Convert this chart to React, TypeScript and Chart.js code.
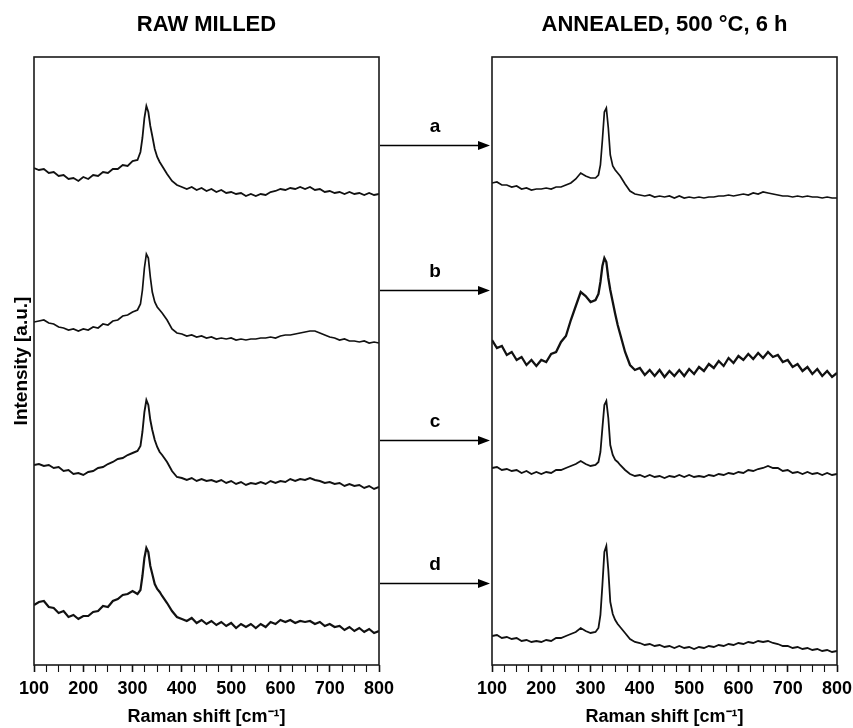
import React, { useEffect, useRef } from 'react';
import { Chart, registerables } from 'chart.js';

Chart.register(...registerables);

const FONT = "'Liberation Sans', Arial, Helvetica, sans-serif";

// Raman shift sample positions (cm^-1)
const ramanShift = [
  100, 110, 120, 130, 140, 150, 160, 170, 180, 190, 200, 210, 220, 230, 240, 250, 260, 270, 280, 290, 300, 310,
  316, 320, 324, 328, 332, 336, 340, 345, 350, 355, 360,
  370, 380, 390, 400, 410, 420, 430, 440, 450, 460, 470, 480, 490, 500, 510, 520, 530, 540, 550, 560, 570, 580, 590,
  600, 610, 620, 630, 640, 650, 660, 670, 680, 690, 700, 710, 720, 730, 740, 750, 760, 770, 780, 790, 800,
];

// RAW MILLED spectra (offset intensity, a.u.)
const rawA = [
  497, 495, 496, 492, 493, 489, 490, 486, 487, 484, 488, 486, 490, 489, 493, 492, 496, 496, 500, 499, 504, 505,
  513, 527, 547, 559, 553, 539, 529, 516, 508, 503, 499,
  491, 484, 480, 478, 476, 478, 475, 477, 474, 476, 473, 475, 472, 473, 471, 472, 469, 471, 469, 471, 470, 473, 474,
  476, 475, 477, 476, 478, 476, 478, 475, 476, 473, 474, 472, 473, 471, 473, 471, 472, 470, 472, 470, 471,
];
const rawB = [
  343, 344, 345, 342, 341, 338, 337, 335, 336, 334, 336, 335, 338, 337, 341, 340, 344, 345, 349, 350, 353, 355,
  361, 375, 397, 411, 407, 388, 373, 363, 358, 355, 352,
  345, 336, 332, 331, 329, 330, 328, 329, 327, 328, 326, 327, 326, 327, 325, 326, 325, 326, 326, 327, 327, 328, 327,
  329, 330, 330, 331, 332, 333, 334, 334, 332, 330, 328, 327, 325, 326, 324, 324, 323, 324, 322, 323, 322,
];
const rawC = [
  200, 201, 199, 200, 197, 198, 194, 195, 191, 192, 190, 193, 194, 197, 198, 201, 203, 206, 207, 210, 212, 214,
  219, 233, 253, 265, 260, 245, 235, 225, 218, 213, 210,
  203, 194, 188, 187, 185, 187, 184, 186, 184, 185, 183, 185, 182, 184, 181, 183, 180, 182, 181, 183, 181, 184, 182,
  184, 183, 186, 184, 186, 185, 187, 185, 184, 182, 183, 181, 182, 179, 181, 179, 180, 177, 179, 176, 178,
];
const rawD = [
  60, 63, 64, 58, 57, 52, 54, 48, 50, 46, 49, 49, 53, 54, 59, 58, 64, 66, 70, 71, 74, 71,
  75, 89, 107, 117, 113, 99, 91, 81, 76, 73, 69,
  62, 54, 48, 46, 44, 47, 42, 45, 41, 44, 40, 43, 39, 42, 37, 41, 38, 41, 37, 41, 38, 43, 41,
  45, 43, 45, 42, 44, 43, 44, 41, 43, 39, 41, 38, 39, 35, 38, 34, 37, 33, 36, 32, 34,
];

// ANNEALED, 500 °C, 6 h spectra
const annA = [
  482, 483, 480, 480, 478, 479, 476, 477, 475, 476, 476, 477, 476, 478, 478, 480, 482, 486, 492, 489, 487, 487,
  490, 500, 525, 553, 557, 537, 510, 499, 495, 492, 489,
  481, 474, 471, 470, 469, 470, 468, 469, 468, 469, 467, 469, 467, 468, 467, 468, 467, 468, 468, 469, 469, 470, 469,
  470, 471, 470, 472, 471, 473, 472, 471, 470, 469, 469, 468, 469, 468, 469, 468, 468, 467, 468, 467, 467,
];
const annB = [
  325, 317, 319, 310, 313, 305, 308, 300, 305, 299, 305, 303, 311, 313, 323, 329, 345, 359, 373, 369, 363, 365,
  371, 383, 399, 407, 403, 387, 375, 363, 351, 340, 331,
  313, 300, 295, 297, 290, 295, 289, 295, 288, 294, 289, 295, 289, 296, 291, 298, 294, 301, 297, 304, 299, 307, 302,
  309, 305, 311, 306, 312, 307, 313, 308, 310, 303, 305, 298, 301, 294, 298, 291, 296, 289, 294, 288, 292,
];
const annC = [
  197, 198, 195, 196, 194, 195, 192, 194, 191, 193, 191, 193, 192, 195, 195, 197, 199, 201, 204, 201, 199, 200,
  203, 213, 237, 260, 264, 247, 220, 210, 205, 203, 200,
  195, 191, 189, 190, 188, 190, 188, 189, 187, 189, 188, 190, 188, 190, 188, 189, 188, 190, 189, 191, 190, 192, 191,
  193, 192, 195, 194, 196, 197, 199, 197, 197, 194, 195, 192, 193, 191, 193, 191, 192, 190, 192, 190, 191,
];
const annD = [
  29, 30, 27, 28, 26, 27, 24, 25, 23, 24, 23, 25, 24, 27, 27, 29, 31, 33, 37, 34, 32, 33,
  37, 50, 80, 113, 119, 95, 63, 51, 45, 41, 38,
  32, 26, 23, 22, 20, 21, 19, 20, 18, 19, 17, 19, 17, 18, 16, 18, 17, 19, 18, 20, 19, 21, 20,
  22, 21, 23, 22, 24, 23, 24, 22, 21, 19, 19, 17, 18, 16, 17, 15, 16, 14, 15, 13, 14,
];

const arrowLabels = ['a', 'b', 'c', 'd'];
const arrowLevels = [520, 375, 225, 82];

const xMin = 100;
const xMax = 800;
const xStep = 25;
const yMin = 0;
const yMax = 608;

function toPoints(vals: number[]) {
  return ramanShift.map((x, i) => ({ x, y: vals[i] }));
}

const framePlugin = {
  id: 'frame',
  afterDatasetsDraw(chart: any, _args: any, opts: any) {
    const { ctx, chartArea } = chart;
    ctx.save();
    ctx.strokeStyle = '#1a1a1a';
    ctx.lineWidth = 1.6;
    ctx.strokeRect(chartArea.left, chartArea.top, chartArea.right - chartArea.left, chartArea.bottom - chartArea.top);
    if (opts && opts.arrows) {
      const yScale = chart.scales.y;
      const x0 = chartArea.right + 1;
      const tip = opts.arrowTip;
      ctx.fillStyle = '#000';
      ctx.strokeStyle = '#000';
      ctx.lineWidth = 1.6;
      ctx.font = `bold 19px ${FONT}`;
      ctx.textAlign = 'center';
      ctx.textBaseline = 'middle';
      arrowLevels.forEach((lvl, i) => {
        const y = Math.round(yScale.getPixelForValue(lvl)) + 0.5;
        ctx.beginPath();
        ctx.moveTo(x0, y);
        ctx.lineTo(tip - 10, y);
        ctx.stroke();
        ctx.beginPath();
        ctx.moveTo(tip, y);
        ctx.lineTo(tip - 12, y - 4.5);
        ctx.lineTo(tip - 12, y + 4.5);
        ctx.closePath();
        ctx.fill();
        ctx.fillText(arrowLabels[i], (x0 + tip) / 2, y - 19);
      });
    }
    ctx.restore();
  },
};

function makeConfig(
  series: number[][],
  widths: number[],
  title: string,
  showY: boolean,
  padLeft: number,
  padRight: number,
  arrows: boolean
): any {
  return {
    type: 'line',
    data: {
      datasets: series.map((vals, i) => ({
        data: toPoints(vals),
        borderColor: '#111',
        borderWidth: widths[i],
        pointRadius: 0,
        fill: false,
        tension: 0,
      })),
    },
    options: {
      animation: false,
      responsive: false,
      devicePixelRatio: 1,
      layout: { padding: { left: padLeft, right: padRight, top: 0, bottom: 0 } },
      plugins: {
        legend: { display: false },
        tooltip: { enabled: false },
        title: {
          display: true,
          text: title,
          fullSize: false,
          color: '#000',
          font: { family: FONT, size: 22, weight: 'bold' },
          padding: { top: 12, bottom: 18.6 },
        },
        frame: { arrows, arrowTip: 490 },
      },
      scales: {
        x: {
          type: 'linear',
          min: xMin,
          max: xMax,
          border: { display: false },
          grid: {
            display: true,
            drawOnChartArea: false,
            drawTicks: true,
            tickLength: 7,
            tickColor: '#111',
            tickWidth: (c: any) => (c.tick && c.tick.value % 100 === 0 ? 1.6 : 1.1),
          },
          ticks: {
            stepSize: xStep,
            autoSkip: false,
            maxRotation: 0,
            padding: 6,
            color: '#000',
            font: { family: FONT, size: 18, weight: 'bold' },
            callback: (v: number) => (v % 100 === 0 ? String(v) : ''),
          },
          title: {
            display: true,
            text: 'Raman shift [cm⁻¹]',
            color: '#000',
            font: { family: FONT, size: 18, weight: 'bold' },
            padding: { top: 0, bottom: 0 },
          },
          afterFit: (s: any) => {
            s.height = 63;
            s.paddingLeft = 0;
            s.paddingRight = 0;
          },
        },
        y: {
          type: 'linear',
          min: yMin,
          max: yMax,
          display: showY,
          ticks: { display: false },
          grid: { display: false },
          border: { display: false },
          title: {
            display: showY,
            text: 'Intensity [a.u.]',
            color: '#000',
            font: { family: FONT, size: 19, weight: 'bold' },
            padding: { top: 10, bottom: 0 },
          },
          afterFit: (s: any) => {
            s.width = showY ? 34 : 0;
          },
        },
      },
    },
    plugins: [framePlugin],
  };
}

export default function App() {
  const leftRef = useRef<HTMLCanvasElement>(null);
  const rightRef = useRef<HTMLCanvasElement>(null);

  useEffect(() => {
    const left = new Chart(
      leftRef.current as HTMLCanvasElement,
      makeConfig([rawA, rawB, rawC, rawD], [1.8, 1.7, 1.9, 2.2], 'RAW MILLED', true, 0, 121, true)
    );
    const right = new Chart(
      rightRef.current as HTMLCanvasElement,
      makeConfig([annA, annB, annC, annD], [1.7, 2.3, 1.8, 1.8], 'ANNEALED, 500 °C, 6 h', false, 52, 16, false)
    );
    return () => {
      left.destroy();
      right.destroy();
    };
  }, []);

  return (
    <div style={{ position: 'absolute', left: 0, top: 0, width: 853, height: 728, background: '#fff' }}>
      <canvas ref={leftRef} width={500} height={728} style={{ position: 'absolute', left: 0, top: 0 }} />
      <canvas ref={rightRef} width={413} height={728} style={{ position: 'absolute', left: 440, top: 0 }} />
    </div>
  );
}
